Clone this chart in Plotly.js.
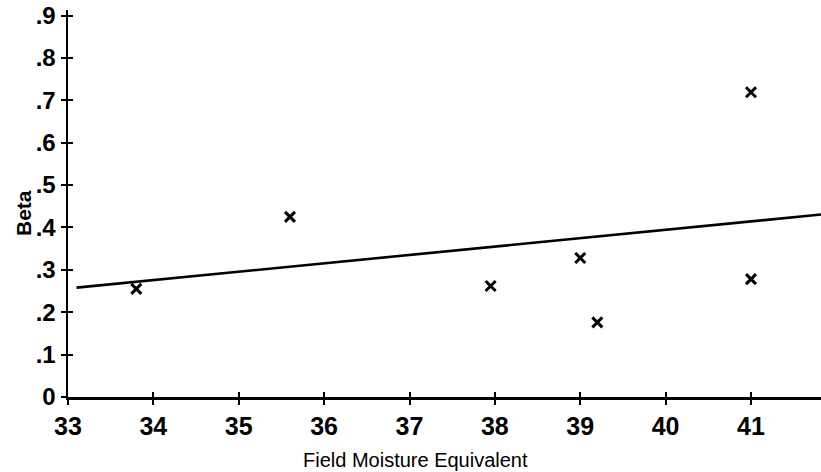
<!DOCTYPE html>
<html><head><meta charset="utf-8">
<script src="https://cdn.plot.ly/plotly-3.0.1.min.js"></script>
<style>html,body{margin:0;padding:0;background:#fff}#chart{width:821px;height:472px}</style>
</head><body><div id="chart"></div>
<script>
// Data
const fieldMoisture = [33.8, 35.6, 37.95, 39.0, 39.2, 41.0, 41.0];
const beta = [0.255, 0.425, 0.262, 0.328, 0.176, 0.719, 0.278];
const fitX = [33.1, 41.85];
const fitY = [0.258, 0.431];
const xTickVals = [33, 34, 35, 36, 37, 38, 39, 40, 41];
const xTickText = ['33', '34', '35', '36', '37', '38', '39', '40', '41'];
const yTickVals = [0, 0.1, 0.2, 0.3, 0.4, 0.5, 0.6, 0.7, 0.8, 0.9];
const yTickText = ['0', '.1', '.2', '.3', '.4', '.5', '.6', '.7', '.8', '.9'];

const fam = 'Liberation Sans, Arial, sans-serif';
const traces = [
  {x: fitX, y: fitY, mode: 'lines', line: {color: '#000', width: 2.6}, showlegend: false, hoverinfo: 'skip'},
  {x: fieldMoisture, y: beta, mode: 'markers', showlegend: false,
   marker: {symbol: 'x-thin-open', size: 10, color: '#000', line: {color: '#000', width: 3}}},
  {x: [33], y: [0], xaxis: 'x2', yaxis: 'y2', mode: 'markers', marker: {opacity: 0}, showlegend: false, hoverinfo: 'skip'}
];
const xr = [33, 41.82], yr = [0, 0.913];
const layout = {
  width: 821, height: 472,
  margin: {l: 68, r: 0, t: 10, b: 75},
  paper_bgcolor: '#fff', plot_bgcolor: '#fff',
  font: {family: fam, size: 20, color: '#000'},
  xaxis: {range: xr, tickvals: xTickVals, ticktext: xTickText, ticks: 'outside', ticklen: 5, tickwidth: 2,
          tickcolor: '#000', showline: true, linecolor: '#000', linewidth: 2.5, showgrid: false, zeroline: false,
          tickfont: {family: fam, size: 25, color: '#000', weight: 'bold'}},
  yaxis: {range: yr, tickvals: yTickVals, ticktext: yTickText, ticks: 'outside', ticklen: 5, tickwidth: 2,
          tickcolor: '#000', showline: true, linecolor: '#000', linewidth: 2.5, showgrid: false, zeroline: false,
          tickfont: {family: fam, size: 24, color: '#000', weight: 'bold'}, ticklabelstandoff: 0},
  xaxis2: {range: xr, overlaying: 'x', tickvals: xTickVals, ticks: 'inside', ticklen: 5, tickwidth: 2,
           tickcolor: '#000', showticklabels: false, showgrid: false, zeroline: false, showline: false},
  yaxis2: {range: yr, overlaying: 'y', tickvals: yTickVals, ticks: 'inside', ticklen: 5, tickwidth: 2,
           tickcolor: '#000', showticklabels: false, showgrid: false, zeroline: false, showline: false},
  annotations: [
    {text: 'Field Moisture Equivalent', xref: 'paper', yref: 'paper', x: (415 - 68) / 753, y: -(460 - 397) / 387,
     showarrow: false, xanchor: 'center', yanchor: 'middle', font: {family: fam, size: 20, color: '#000'}},
    {text: 'Beta', xref: 'paper', yref: 'paper', x: -(68 - 23) / 753, y: (397 - 213) / 387, textangle: -90,
     showarrow: false, xanchor: 'center', yanchor: 'middle', font: {family: fam, size: 21, color: '#000', weight: 'bold'}}
  ]
};
Plotly.newPlot('chart', traces, layout, {displayModeBar: false, staticPlot: true});
</script></body></html>
